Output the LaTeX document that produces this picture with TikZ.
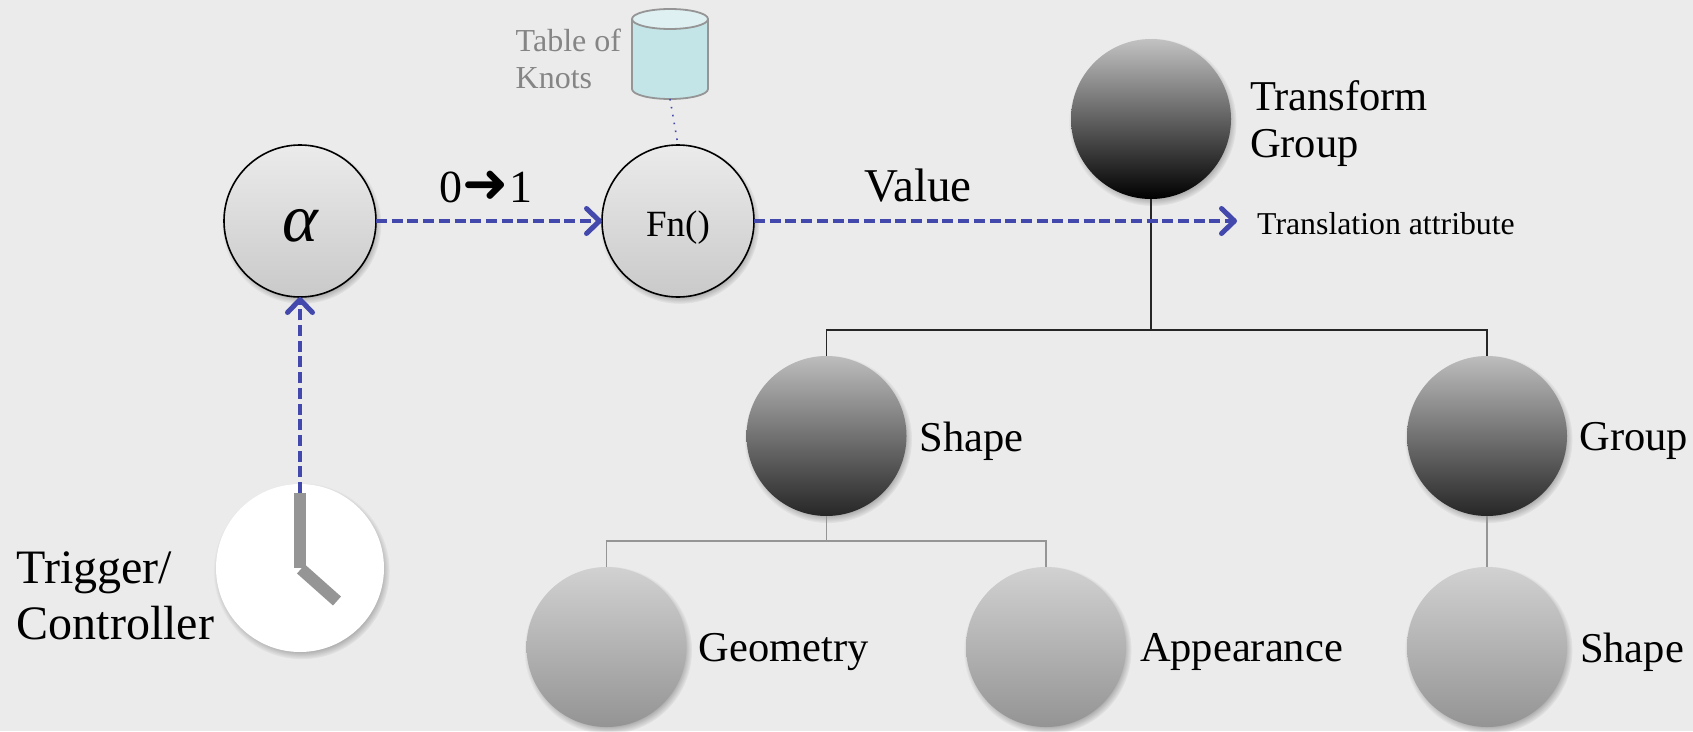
\documentclass[tikz,border=0pt]{standalone}
\usepackage{fontspec}
\setmainfont{Liberation Serif}
\newfontfamily\arrowfont{DejaVu Sans}
\usetikzlibrary{arrows.meta, positioning, shadows, fadings}
\definecolor{bgcol}{HTML}{EBEBEB}
\definecolor{flowcol}{HTML}{4348AC}
\definecolor{knotcol}{HTML}{C4E5E8}
\definecolor{knottop}{HTML}{DFF0F2}
\definecolor{edgecol}{HTML}{959595}

\begin{document}
\begin{tikzpicture}[
  x=1pt, y=-1pt,
  softshadow/.style={drop shadow={shadow xshift=1.5pt, shadow yshift=-3pt, shadow scale=1.05, fill=black, opacity=.4, path fading=circle with fuzzy edge 15 percent}},
  ball/.style={circle, minimum size=160pt, inner sep=0pt, outer sep=0pt, softshadow},
  funcball/.style={circle, draw, line width=1.6pt, minimum size=152pt, inner sep=0pt, outer sep=0pt, top color=bgcol, bottom color=black!21, softshadow},
  darktop/.style={ball, top color=black!24, bottom color=black},
  darkmid/.style={ball, top color=black!26, bottom color=black!85},
  lightball/.style={ball, top color=black!18, bottom color=black!42},
  lbl/.style={inner sep=0pt, outer sep=0pt, align=left, yshift=-5pt, font=\fontsize{42.5}{47}\selectfont},
  flow/.style={-{Straight Barb[length=13pt, width=25pt, line width=5pt, round]}, flowcol, line width=4.4pt, dash pattern=on 11pt off 4.7pt},
  treeline/.style={black!85, line width=1.6pt},
  greyline/.style={edgecol, line width=1.6pt},
  knotline/.style={draw=edgecol, line width=1.8pt}
]
\fill[bgcol] (0,0) rectangle (1693,731);
\useasboundingbox (0,0) rectangle (1693,731);

\node[funcball] (alpha) at (300,221) {\raisebox{-20pt}[0pt][0pt]{\fontsize{68}{68}\selectfont\itshape α}};
\node[funcball, right=226pt of alpha] (fn) {\raisebox{-15pt}[0pt][0pt]{\fontsize{37}{40}\selectfont Fn()}};
\node[circle, fill=white, minimum size=168pt, inner sep=0pt, outer sep=0pt, softshadow] (clock) at (300,568) {};
\node[minimum width=76pt, minimum height=90pt, inner sep=0pt, outer sep=0pt] (knots) at (670,54) {};

\node[darktop] (tgroup) at (1151,119) {};
\node[darkmid] (shape) at (826.5,436) {};
\node[darkmid] (group) at (1487,436) {};
\node[lightball] (geom) at (606.5,647) {};
\node[lightball] (appear) at (1046,647) {};
\node[lightball] (shapeb) at (1487,647) {};

\node[lbl, right=19pt of tgroup] (tgrouplbl) {Transform\\Group};
\node[lbl, right=13pt of shape] (shapelbl) {Shape};
\node[lbl, right=12.5pt of group] (grouplbl) {Group};
\node[lbl, right=12pt of geom] (geomlbl) {Geometry};
\node[lbl, right=14pt of appear] (appearlbl) {Appearance};
\node[lbl, right=13pt of shapeb] (shapeblbl) {Shape};
\node[lbl, font=\fontsize{48}{56}\selectfont, left=2pt of clock, yshift=-23pt] (triglbl) {Trigger/\\Controller};
\node[lbl, font=\fontsize{32}{37.5}\selectfont, text=black!48, left=11pt of knots] (knotlbl) {Table of\\Knots};
\node[lbl, font=\fontsize{46}{50}\selectfont, above=23pt of alpha.east, xshift=110pt, anchor=south] (rangelbl) {0{\arrowfont\fontsize{55}{50}\selectfont ➜}1};
\node[lbl, font=\fontsize{47}{50}\selectfont] (valuelbl) at (918,181) {Value};
\node[lbl, font=\fontsize{31.8}{36}\selectfont] (attrlbl) at (1386,219) {Translation attribute};

\coordinate (attrend) at (1237,221);
\coordinate (bustop) at (1151,330);
\coordinate (busmid) at (826.5,541);

% table of knots
\fill[knotcol] ([yshift=-10pt]knots.north west) -- ([yshift=10pt]knots.south west) arc[start angle=180, end angle=360, x radius=38pt, y radius=10pt] -- ([yshift=-10pt]knots.north east) -- cycle;
\draw[knotline] ([yshift=-10pt]knots.north west) -- ([yshift=10pt]knots.south west) arc[start angle=180, end angle=360, x radius=38pt, y radius=10pt] -- ([yshift=-10pt]knots.north east);
\draw[knotline, fill=knottop] ([yshift=-10pt]knots.north) ellipse[x radius=38pt, y radius=10pt];

% tree
\draw[treeline] (tgroup.south) -- (bustop);
\draw[treeline] (shape.north) |- (bustop);
\draw[treeline] (group.north) |- (bustop);
\draw[greyline] (shape.south) -- (busmid);
\draw[greyline] (geom.north) |- (busmid);
\draw[greyline] (appear.north) |- (busmid);
\draw[greyline] (group.south) -- (shapeb.north);

% flow
\coordinate (handtop) at (300,493);
\coordinate (handmid) at (300,568);
\coordinate (handend) at (337,601);
\draw[flow] (handtop) -- (alpha.south);
\draw[flow] (alpha.east) -- (fn.west);
\draw[flow] (fn.east) -- (attrend);
\draw[flowcol, line width=1.6pt, dash pattern=on 1.6pt off 6.4pt] (knots.south) -- (fn.north);

% clock hands
\draw[edgecol, line width=12.5pt] (handtop) -- (handmid);
\draw[edgecol, line width=12pt] (301,569) -- (handend);
\end{tikzpicture}
\end{document}
